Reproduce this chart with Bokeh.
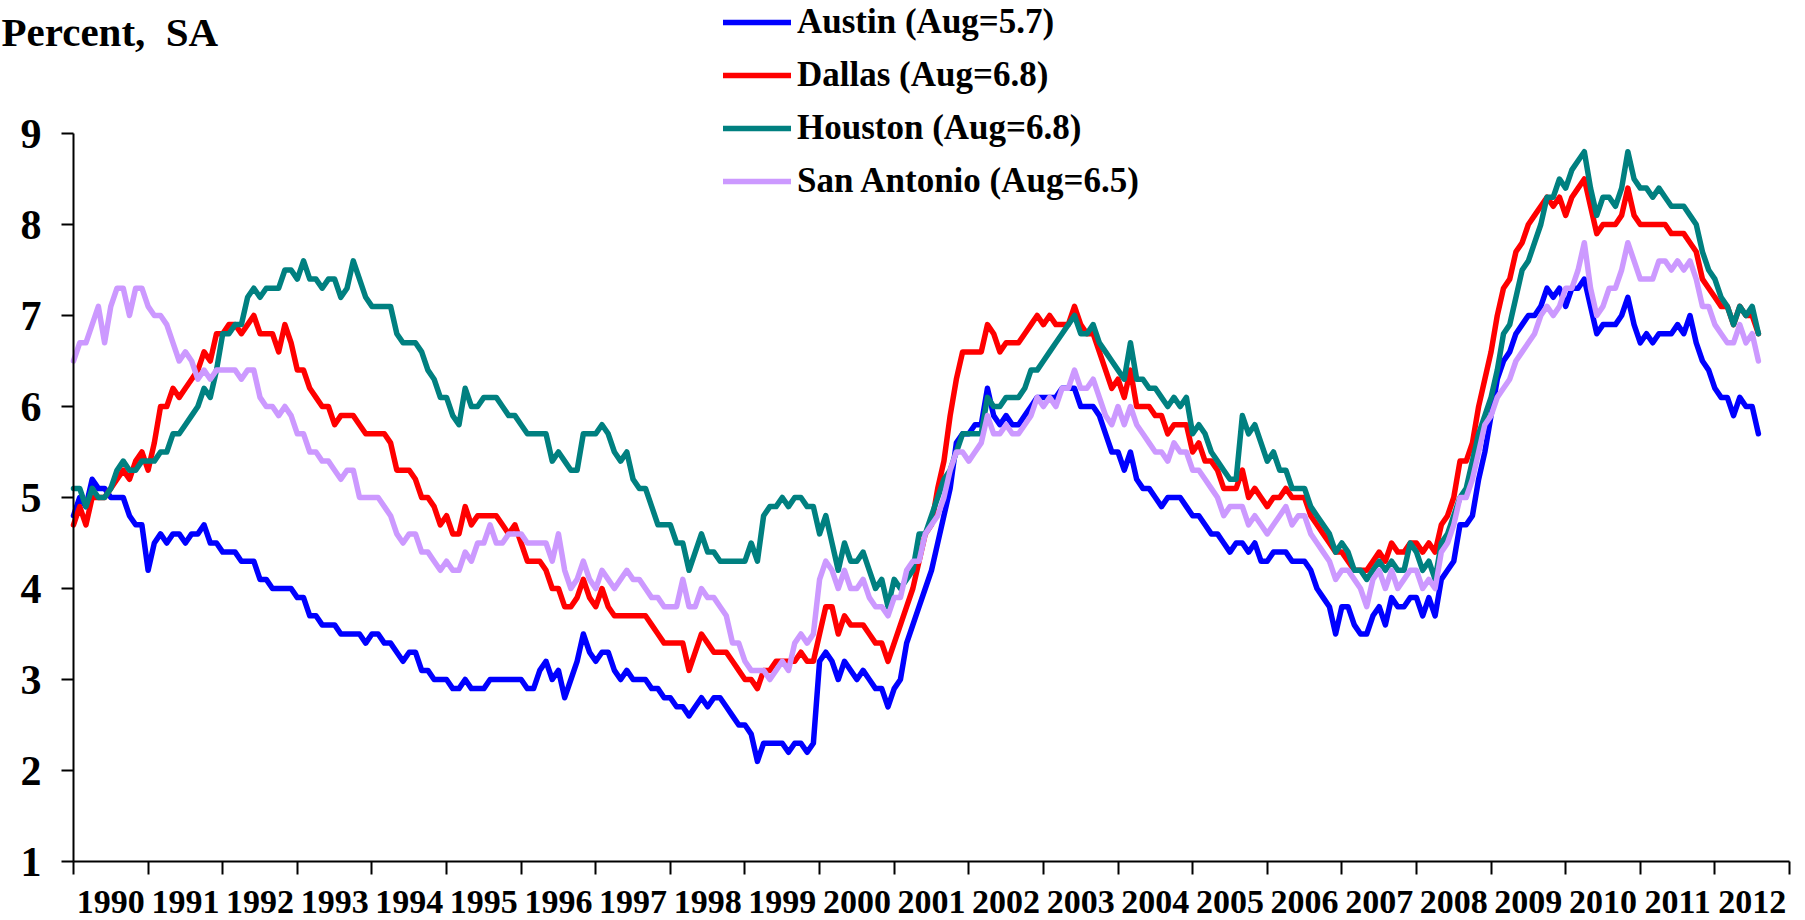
from bokeh.plotting import figure
from bokeh.models import Range1d, FixedTicker, Legend, LegendItem, Label
from bokeh.embed import file_html
from bokeh.resources import INLINE

# ---------------- data (monthly, Jan 1990 - Aug 2012, percent SA) ----------------
years = list(range(1990, 2013))
year_labels = [str(y) for y in years]
y_ticks = [1, 2, 3, 4, 5, 6, 7, 8, 9]

series_names = ["Austin (Aug=5.7)", "Dallas (Aug=6.8)", "Houston (Aug=6.8)", "San Antonio (Aug=6.5)"]
series_colors = ["#0000FF", "#FF0000", "#008080", "#CC99FF"]

austin = [
    4.8, 5.0, 4.9, 5.2, 5.1, 5.1, 5.0, 5.0, 5.0, 4.8, 4.7, 4.7,  # 1990
    4.2, 4.5, 4.6, 4.5, 4.6, 4.6, 4.5, 4.6, 4.6, 4.7, 4.5, 4.5,  # 1991
    4.4, 4.4, 4.4, 4.3, 4.3, 4.3, 4.1, 4.1, 4.0, 4.0, 4.0, 4.0,  # 1992
    3.9, 3.9, 3.7, 3.7, 3.6, 3.6, 3.6, 3.5, 3.5, 3.5, 3.5, 3.4,  # 1993
    3.5, 3.5, 3.4, 3.4, 3.3, 3.2, 3.3, 3.3, 3.1, 3.1, 3.0, 3.0,  # 1994
    3.0, 2.9, 2.9, 3.0, 2.9, 2.9, 2.9, 3.0, 3.0, 3.0, 3.0, 3.0,  # 1995
    3.0, 2.9, 2.9, 3.1, 3.2, 3.0, 3.1, 2.8, 3.0, 3.2, 3.5, 3.3,  # 1996
    3.2, 3.3, 3.3, 3.1, 3.0, 3.1, 3.0, 3.0, 3.0, 2.9, 2.9, 2.8,  # 1997
    2.8, 2.7, 2.7, 2.6, 2.7, 2.8, 2.7, 2.8, 2.8, 2.7, 2.6, 2.5,  # 1998
    2.5, 2.4, 2.1, 2.3, 2.3, 2.3, 2.3, 2.2, 2.3, 2.3, 2.2, 2.3,  # 1999
    3.2, 3.3, 3.2, 3.0, 3.2, 3.1, 3.0, 3.1, 3.0, 2.9, 2.9, 2.7,  # 2000
    2.9, 3.0, 3.4, 3.6, 3.8, 4.0, 4.2, 4.5, 4.8, 5.1, 5.6, 5.7,  # 2001
    5.7, 5.8, 5.8, 6.2, 5.9, 5.8, 5.9, 5.8, 5.8, 5.9, 6.0, 6.1,  # 2002
    6.1, 6.1, 6.1, 6.2, 6.2, 6.2, 6.0, 6.0, 6.0, 5.9, 5.7, 5.5,  # 2003
    5.5, 5.3, 5.5, 5.2, 5.1, 5.1, 5.0, 4.9, 5.0, 5.0, 5.0, 4.9,  # 2004
    4.8, 4.8, 4.7, 4.6, 4.6, 4.5, 4.4, 4.5, 4.5, 4.4, 4.5, 4.3,  # 2005
    4.3, 4.4, 4.4, 4.4, 4.3, 4.3, 4.3, 4.2, 4.0, 3.9, 3.8, 3.5,  # 2006
    3.8, 3.8, 3.6, 3.5, 3.5, 3.7, 3.8, 3.6, 3.9, 3.8, 3.8, 3.9,  # 2007
    3.9, 3.7, 3.9, 3.7, 4.1, 4.2, 4.3, 4.7, 4.7, 4.8, 5.2, 5.5,  # 2008
    5.9, 6.3, 6.5, 6.6, 6.8, 6.9, 7.0, 7.0, 7.1, 7.3, 7.2, 7.3,  # 2009
    7.1, 7.3, 7.3, 7.4, 7.1, 6.8, 6.9, 6.9, 6.9, 7.0, 7.2, 6.9,  # 2010
    6.7, 6.8, 6.7, 6.8, 6.8, 6.8, 6.9, 6.8, 7.0, 6.7, 6.5, 6.4,  # 2011
    6.2, 6.1, 6.1, 5.9, 6.1, 6.0, 6.0, 5.7,                      # 2012
]

dallas = [
    4.7, 4.9, 4.7, 5.0, 5.0, 5.0, 5.1, 5.2, 5.3, 5.2, 5.4, 5.5,  # 1990
    5.3, 5.6, 6.0, 6.0, 6.2, 6.1, 6.2, 6.3, 6.4, 6.6, 6.5, 6.8,  # 1991
    6.8, 6.9, 6.9, 6.8, 6.9, 7.0, 6.8, 6.8, 6.8, 6.6, 6.9, 6.7,  # 1992
    6.4, 6.4, 6.2, 6.1, 6.0, 6.0, 5.8, 5.9, 5.9, 5.9, 5.8, 5.7,  # 1993
    5.7, 5.7, 5.7, 5.6, 5.3, 5.3, 5.3, 5.2, 5.0, 5.0, 4.9, 4.7,  # 1994
    4.8, 4.6, 4.6, 4.9, 4.7, 4.8, 4.8, 4.8, 4.8, 4.7, 4.6, 4.7,  # 1995
    4.5, 4.3, 4.3, 4.3, 4.2, 4.0, 4.0, 3.8, 3.8, 3.9, 4.1, 3.9,  # 1996
    3.8, 4.0, 3.8, 3.7, 3.7, 3.7, 3.7, 3.7, 3.7, 3.6, 3.5, 3.4,  # 1997
    3.4, 3.4, 3.4, 3.1, 3.3, 3.5, 3.4, 3.3, 3.3, 3.3, 3.2, 3.1,  # 1998
    3.0, 3.0, 2.9, 3.1, 3.1, 3.2, 3.2, 3.2, 3.2, 3.3, 3.2, 3.2,  # 1999
    3.5, 3.8, 3.8, 3.5, 3.7, 3.6, 3.6, 3.6, 3.5, 3.4, 3.4, 3.2,  # 2000
    3.4, 3.6, 3.8, 4.0, 4.3, 4.6, 4.7, 5.1, 5.4, 5.9, 6.3, 6.6,  # 2001
    6.6, 6.6, 6.6, 6.9, 6.8, 6.6, 6.7, 6.7, 6.7, 6.8, 6.9, 7.0,  # 2002
    6.9, 7.0, 6.9, 6.9, 6.9, 7.1, 6.9, 6.8, 6.8, 6.6, 6.4, 6.2,  # 2003
    6.3, 6.1, 6.4, 6.0, 6.0, 6.0, 5.9, 5.9, 5.7, 5.8, 5.8, 5.8,  # 2004
    5.5, 5.6, 5.4, 5.4, 5.3, 5.1, 5.1, 5.1, 5.3, 5.0, 5.1, 5.0,  # 2005
    4.9, 5.0, 5.0, 5.1, 5.0, 5.0, 5.0, 4.8, 4.7, 4.6, 4.5, 4.4,  # 2006
    4.4, 4.3, 4.2, 4.2, 4.2, 4.3, 4.4, 4.3, 4.5, 4.4, 4.4, 4.5,  # 2007
    4.5, 4.4, 4.5, 4.4, 4.7, 4.8, 5.0, 5.4, 5.4, 5.6, 6.0, 6.3,  # 2008
    6.6, 7.0, 7.3, 7.4, 7.7, 7.8, 8.0, 8.1, 8.2, 8.3, 8.2, 8.3,  # 2009
    8.1, 8.3, 8.4, 8.5, 8.2, 7.9, 8.0, 8.0, 8.0, 8.1, 8.4, 8.1,  # 2010
    8.0, 8.0, 8.0, 8.0, 8.0, 7.9, 7.9, 7.9, 7.8, 7.7, 7.4, 7.3,  # 2011
    7.2, 7.1, 7.1, 6.9, 7.1, 7.0, 7.0, 6.8,                      # 2012
]

houston = [
    5.1, 5.1, 4.9, 5.1, 5.0, 5.0, 5.1, 5.3, 5.4, 5.3, 5.3, 5.4,  # 1990
    5.4, 5.4, 5.5, 5.5, 5.7, 5.7, 5.8, 5.9, 6.0, 6.2, 6.1, 6.4,  # 1991
    6.8, 6.8, 6.9, 6.9, 7.2, 7.3, 7.2, 7.3, 7.3, 7.3, 7.5, 7.5,  # 1992
    7.4, 7.6, 7.4, 7.4, 7.3, 7.4, 7.4, 7.2, 7.3, 7.6, 7.4, 7.2,  # 1993
    7.1, 7.1, 7.1, 7.1, 6.8, 6.7, 6.7, 6.7, 6.6, 6.4, 6.3, 6.1,  # 1994
    6.1, 5.9, 5.8, 6.2, 6.0, 6.0, 6.1, 6.1, 6.1, 6.0, 5.9, 5.9,  # 1995
    5.8, 5.7, 5.7, 5.7, 5.7, 5.4, 5.5, 5.4, 5.3, 5.3, 5.7, 5.7,  # 1996
    5.7, 5.8, 5.7, 5.5, 5.4, 5.5, 5.2, 5.1, 5.1, 4.9, 4.7, 4.7,  # 1997
    4.7, 4.5, 4.5, 4.2, 4.4, 4.6, 4.4, 4.4, 4.3, 4.3, 4.3, 4.3,  # 1998
    4.3, 4.5, 4.3, 4.8, 4.9, 4.9, 5.0, 4.9, 5.0, 5.0, 4.9, 4.9,  # 1999
    4.6, 4.8, 4.5, 4.2, 4.5, 4.3, 4.3, 4.4, 4.2, 4.0, 4.1, 3.8,  # 2000
    4.1, 4.0, 4.1, 4.2, 4.6, 4.6, 4.8, 5.0, 5.2, 5.3, 5.5, 5.7,  # 2001
    5.7, 5.7, 5.7, 6.1, 6.0, 6.0, 6.1, 6.1, 6.1, 6.2, 6.4, 6.4,  # 2002
    6.5, 6.6, 6.7, 6.8, 6.9, 7.0, 6.8, 6.8, 6.9, 6.7, 6.6, 6.5,  # 2003
    6.4, 6.3, 6.7, 6.3, 6.3, 6.2, 6.2, 6.1, 6.0, 6.1, 6.0, 6.1,  # 2004
    5.7, 5.8, 5.7, 5.5, 5.4, 5.3, 5.2, 5.2, 5.9, 5.7, 5.8, 5.6,  # 2005
    5.4, 5.5, 5.3, 5.3, 5.1, 5.1, 5.1, 4.9, 4.8, 4.7, 4.6, 4.4,  # 2006
    4.5, 4.4, 4.2, 4.2, 4.1, 4.2, 4.3, 4.2, 4.3, 4.2, 4.2, 4.5,  # 2007
    4.4, 4.2, 4.3, 4.1, 4.5, 4.6, 4.8, 5.0, 5.1, 5.4, 5.7, 5.9,  # 2008
    6.1, 6.4, 6.8, 6.9, 7.2, 7.5, 7.6, 7.8, 8.0, 8.3, 8.3, 8.5,  # 2009
    8.4, 8.6, 8.7, 8.8, 8.4, 8.1, 8.3, 8.3, 8.2, 8.4, 8.8, 8.5,  # 2010
    8.4, 8.4, 8.3, 8.4, 8.3, 8.2, 8.2, 8.2, 8.1, 8.0, 7.7, 7.5,  # 2011
    7.4, 7.2, 7.1, 6.9, 7.1, 7.0, 7.1, 6.8,                      # 2012
]

san_antonio = [
    6.5, 6.7, 6.7, 6.9, 7.1, 6.7, 7.1, 7.3, 7.3, 7.0, 7.3, 7.3,  # 1990
    7.1, 7.0, 7.0, 6.9, 6.7, 6.5, 6.6, 6.5, 6.3, 6.4, 6.3, 6.4,  # 1991
    6.4, 6.4, 6.4, 6.3, 6.4, 6.4, 6.1, 6.0, 6.0, 5.9, 6.0, 5.9,  # 1992
    5.7, 5.7, 5.5, 5.5, 5.4, 5.4, 5.3, 5.2, 5.3, 5.3, 5.0, 5.0,  # 1993
    5.0, 5.0, 4.9, 4.8, 4.6, 4.5, 4.6, 4.6, 4.4, 4.4, 4.3, 4.2,  # 1994
    4.3, 4.2, 4.2, 4.4, 4.3, 4.5, 4.5, 4.7, 4.5, 4.5, 4.6, 4.6,  # 1995
    4.6, 4.5, 4.5, 4.5, 4.5, 4.3, 4.6, 4.2, 4.0, 4.1, 4.3, 4.1,  # 1996
    4.0, 4.2, 4.1, 4.0, 4.1, 4.2, 4.1, 4.1, 4.0, 3.9, 3.9, 3.8,  # 1997
    3.8, 3.8, 4.1, 3.8, 3.8, 4.0, 3.9, 3.9, 3.8, 3.7, 3.4, 3.4,  # 1998
    3.2, 3.1, 3.1, 3.1, 3.0, 3.1, 3.2, 3.1, 3.4, 3.5, 3.4, 3.5,  # 1999
    4.1, 4.3, 4.2, 4.0, 4.2, 4.0, 4.0, 4.1, 3.9, 3.8, 3.8, 3.7,  # 2000
    3.9, 3.9, 4.2, 4.3, 4.3, 4.6, 4.7, 4.8, 5.0, 5.3, 5.5, 5.5,  # 2001
    5.4, 5.5, 5.6, 5.9, 5.7, 5.7, 5.8, 5.7, 5.7, 5.8, 5.9, 6.1,  # 2002
    6.0, 6.1, 6.0, 6.2, 6.2, 6.4, 6.2, 6.2, 6.3, 6.1, 5.9, 5.8,  # 2003
    6.0, 5.8, 6.0, 5.8, 5.7, 5.6, 5.5, 5.5, 5.4, 5.6, 5.5, 5.5,  # 2004
    5.3, 5.3, 5.2, 5.1, 5.0, 4.8, 4.9, 4.9, 4.9, 4.7, 4.8, 4.7,  # 2005
    4.6, 4.7, 4.8, 4.9, 4.7, 4.8, 4.8, 4.6, 4.5, 4.4, 4.3, 4.1,  # 2006
    4.2, 4.2, 4.1, 4.0, 3.8, 4.1, 4.2, 4.0, 4.2, 4.0, 4.1, 4.2,  # 2007
    4.2, 4.0, 4.1, 4.0, 4.4, 4.5, 4.7, 5.0, 5.0, 5.2, 5.5, 5.8,  # 2008
    5.9, 6.1, 6.2, 6.3, 6.5, 6.6, 6.7, 6.8, 7.0, 7.1, 7.0, 7.1,  # 2009
    7.3, 7.3, 7.5, 7.8, 7.3, 7.0, 7.1, 7.3, 7.3, 7.5, 7.8, 7.6,  # 2010
    7.4, 7.4, 7.4, 7.6, 7.6, 7.5, 7.6, 7.5, 7.6, 7.4, 7.1, 7.1,  # 2011
    6.9, 6.8, 6.7, 6.7, 6.9, 6.7, 6.8, 6.5,                      # 2012
]

n_months = len(austin)
month_pos = [1990 + i / 12.0 for i in range(n_months)]

# ---------------- figure (frame covers the whole canvas; axes sit at fixed data locations) ----------------
FONT = "Liberation Serif"
W, H = 1800, 920
AXIS_X0, AXIS_X1 = 73, 1789   # canvas pixels of x = 1990 and x = 2013
AXIS_Y1 = 861                 # canvas pixel (from top) of y = 1
PX_PER_UNIT = 91.0
PX_PER_YEAR = (AXIS_X1 - AXIS_X0) / 23.0
X_START = 1990 - AXIS_X0 / PX_PER_YEAR
X_END = 2013 + (W - AXIS_X1) / PX_PER_YEAR
Y_START = 1 - (H - AXIS_Y1) / PX_PER_UNIT
Y_END = 1 + AXIS_Y1 / PX_PER_UNIT

p = figure(width=W, height=H, output_backend="svg", toolbar_location=None,
           x_range=Range1d(X_START, X_END), y_range=Range1d(Y_START, Y_END),
           min_border_left=0, min_border_right=0, min_border_top=0, min_border_bottom=0)
p.outline_line_color = None
p.xgrid.visible = False
p.ygrid.visible = False
p.background_fill_color = "white"
p.border_fill_color = "white"

# x axis: ticks at year boundaries (minor), labels centred in each year (major)
xa = p.xaxis[0]
xa.fixed_location = 1
xa.ticker = FixedTicker(ticks=[y + 0.5 for y in years], minor_ticks=years + [2013])
xa.major_label_overrides = {y + 0.5: lbl for y, lbl in zip(years, year_labels)}
xa.bounds = (1990, 2013)
xa.axis_line_width = 2
xa.axis_line_color = "black"
xa.major_tick_out = 0
xa.major_tick_in = 0
xa.minor_tick_out = 13
xa.minor_tick_in = 0
xa.minor_tick_line_width = 2
xa.minor_tick_line_color = "black"
xa.major_label_text_font = FONT
xa.major_label_text_font_style = "bold"
xa.major_label_text_font_size = "34px"
xa.major_label_text_color = "black"
xa.major_label_standoff = 16

ya = p.yaxis[0]
ya.fixed_location = 1990
ya.ticker = FixedTicker(ticks=y_ticks, minor_ticks=[])
ya.bounds = (1, 9)
ya.axis_line_width = 2
ya.axis_line_color = "black"
ya.major_tick_out = 12
ya.major_tick_in = 0
ya.major_tick_line_width = 2
ya.major_tick_line_color = "black"
ya.minor_tick_line_color = None
ya.major_label_text_font = FONT
ya.major_label_text_font_style = "bold"
ya.major_label_text_font_size = "42px"
ya.major_label_text_color = "black"
ya.major_label_standoff = 20

renderers = []
for vals, col in zip([austin, dallas, houston, san_antonio], series_colors):
    r = p.line(month_pos, vals, line_color=col, line_width=5.5, line_join="round", line_cap="round")
    renderers.append(r)

legend = Legend(items=[LegendItem(label=nm, renderers=[r]) for nm, r in zip(series_names, renderers)],
                location=(AXIS_X0 + 650, H - 201), orientation="vertical",
                border_line_color=None, background_fill_alpha=0.0,
                label_text_font=FONT, label_text_font_style="bold", label_text_font_size="35px",
                label_text_color="black",
                glyph_width=68, glyph_height=40, label_height=40, spacing=13,
                padding=0, margin=0, label_standoff=6)
p.add_layout(legend)

title = Label(x=1, y=H - 31, x_units="screen", y_units="screen", text="Percent,\u00a0 SA",
              text_font=FONT, text_font_style="bold", text_font_size="41px",
              text_color="black", text_baseline="alphabetic", text_align="left")
p.add_layout(title)

open("out.html", "w").write(file_html(p, INLINE))
